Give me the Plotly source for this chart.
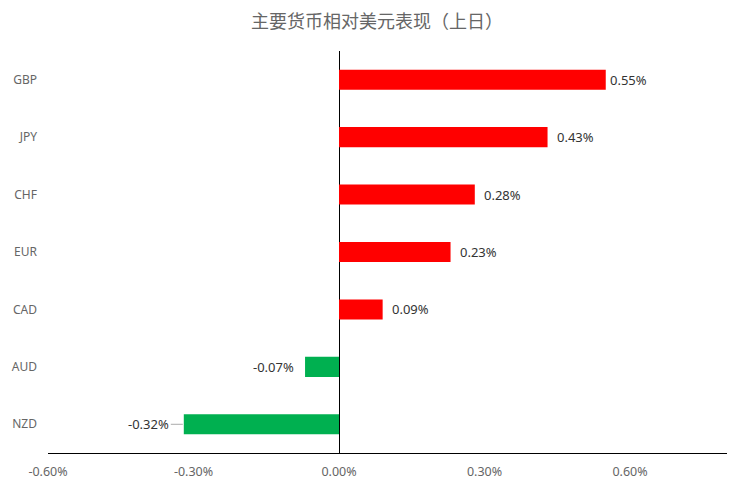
import plotly.graph_objects as go

# --- Data --------------------------------------------------------------------

currencies = ["GBP", "JPY", "CHF", "EUR", "CAD", "AUD", "NZD"]
change_pct = [0.55, 0.43, 0.28, 0.23, 0.09, -0.07, -0.32]
tick_vals = [-0.6, -0.3, 0.0, 0.3, 0.6]
tick_text = ["-0.60%", "-0.30%", "0.00%", "0.30%", "0.60%"]

UP = "#ff0000"
DOWN = "#00b050"
FONT = '"Noto Sans", "Noto Sans CJK SC", sans-serif'

colors = [UP if v >= 0 else DOWN for v in change_pct]

fig = go.Figure()

fig.add_trace(go.Bar(
    x=change_pct, y=currencies, orientation="h",
    marker=dict(color=colors, line=dict(width=0)),
    width=0.35,
    hovertemplate="%{y}: %{x:.2f}%<extra></extra>",
))

# value labels beside the bar ends; the biggest sits tight, the smallest gets a leader line
label_font = dict(family=FONT, size=13, color="#333")
for cur, v in zip(currencies, change_pct):
    text = f"{v:.2f}%"
    if v == min(change_pct):
        fig.add_annotation(
            x=v, y=cur, text=text, xanchor="right",
            showarrow=True, arrowhead=0, arrowwidth=1, arrowcolor="#aaa",
            ax=-13, ay=0, standoff=1, font=label_font,
        )
    elif v >= 0:
        fig.add_annotation(
            x=v, y=cur, text=text, xanchor="left", showarrow=False,
            xshift=2 if v == max(change_pct) else 7, font=label_font,
        )
    else:
        fig.add_annotation(
            x=v, y=cur, text=text, xanchor="right", showarrow=False,
            xshift=-9, font=label_font,
        )

# page body adds an 8px margin, so the figure is sized to fit the window
fig.update_layout(
    title=dict(
        text="主要货币相对美元表现（上日）",
        x=0.496, xanchor="center", y=0.972, yanchor="middle",
        font=dict(family='"Noto Sans CJK SC", sans-serif', size=18, color="#666"),
    ),
    font=dict(family=FONT, size=12, color="#666"),
    paper_bgcolor="white",
    plot_bgcolor="white",
    showlegend=False,
    width=744, height=483,
    margin=dict(l=40, r=25, t=43, b=38, autoexpand=False),
    xaxis=dict(
        range=[-0.6, 0.8],
        tickvals=tick_vals, ticktext=tick_text,
        showgrid=False,
        zeroline=True, zerolinecolor="#000", zerolinewidth=1,
        showline=True, linecolor="#000", linewidth=1,
        ticks="", ticklen=0, ticklabelstandoff=7,
        automargin=False,
        tickfont=dict(family=FONT, size=12.5, color="#666"),
    ),
    yaxis=dict(
        categoryorder="array", categoryarray=currencies,
        autorange="reversed",
        showgrid=False, zeroline=False, showline=False,
        ticks="", ticklabelstandoff=10,
        automargin=False,
        tickfont=dict(family=FONT, size=12, color="#666"),
    ),
)

fig.write_html("out.html")
